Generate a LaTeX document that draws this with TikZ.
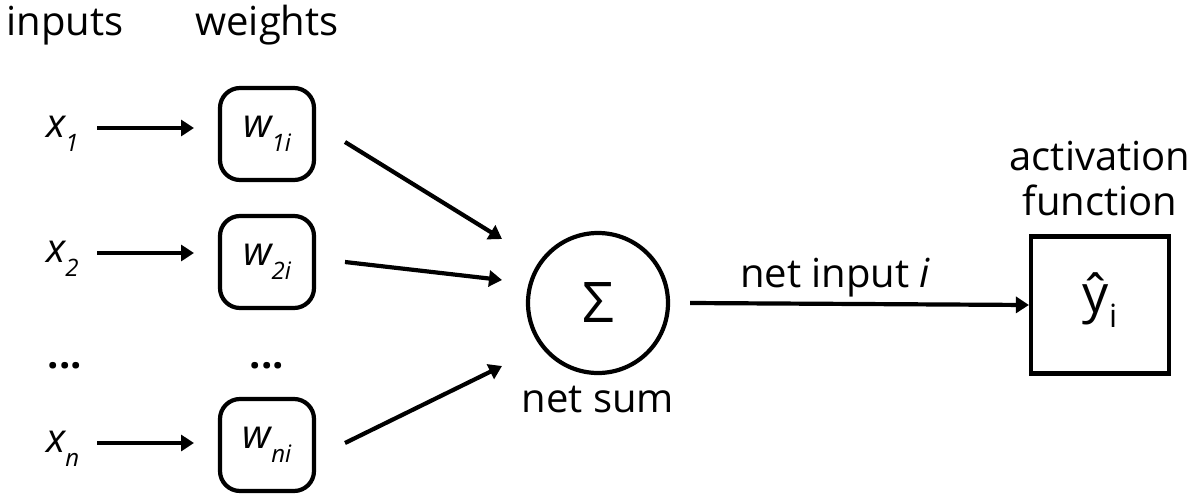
\documentclass[tikz,border=0pt]{standalone}
\usepackage{fontspec}
\setmainfont{Open Sans}
\usetikzlibrary{arrows.meta}
\begin{document}
\begin{tikzpicture}[x=1pt,y=-1pt,
  every node/.style={font=\fontsize{40}{44}\selectfont, inner sep=0pt},
  wbox/.style={draw, line width=4.2pt, rounded corners=20pt, minimum width=94pt, minimum height=92pt},
  arr/.style={line width=4.2pt, -{Triangle[length=13pt,width=16pt]}},
  lbl/.style={anchor=base}
]
\useasboundingbox (0,0) rectangle (1199,501);
% headings
\node[lbl] (hin) at (65,35) {inputs};
\node[lbl] (hw) at (267,35) {weights};
% inputs
\node[anchor=base west] (x1) at (46,137) {\itshape x\raisebox{-0.35em}{\fontsize{24}{26}\selectfont 1}};
\node[anchor=base west] (x2) at (46,262) {\itshape x\raisebox{-0.35em}{\fontsize{24}{26}\selectfont 2}};
\node[anchor=base west] (xn) at (46,452) {\itshape x\raisebox{-0.35em}{\fontsize{24}{26}\selectfont n}};
\node[lbl] (d1) at (65,368) {\textbf{...}};
\node[lbl] (d2) at (267,368) {\textbf{...}};
% weight boxes
\node[wbox] (w1) at (267,134) {\itshape w\raisebox{-0.35em}{\fontsize{24}{26}\selectfont 1i}};
\node[wbox] (w2) at (267,262) {\itshape w\raisebox{-0.35em}{\fontsize{24}{26}\selectfont 2i}};
\node[wbox] (wn) at (267,445) {\itshape w\raisebox{-0.35em}{\fontsize{24}{26}\selectfont ni}};
% arrow start/end coordinates
\coordinate (a1s) at (97,128); \coordinate (a1e) at (194,128);
\coordinate (a2s) at (97,253); \coordinate (a2e) at (194,253);
\coordinate (ans) at (97,443); \coordinate (ane) at (194,443);
\draw[arr] (a1s) -- (a1e);
\draw[arr] (a2s) -- (a2e);
\draw[arr] (ans) -- (ane);
% sum
\node[draw, circle, line width=4.2pt, minimum size=140pt] (sum) at (598,303) {\fontsize{56}{60}\selectfont Σ};
\node[lbl] (ns) at (598,412) {net sum};
\coordinate (b1s) at (345,142); \coordinate (b1e) at (502,239);
\coordinate (b2s) at (345,262); \coordinate (b2e) at (502,280);
\coordinate (bns) at (345,443); \coordinate (bne) at (502,366);
\draw[arr] (b1s) -- (b1e);
\draw[arr] (b2s) -- (b2e);
\draw[arr] (bns) -- (bne);
% output
\node[draw, line width=4.2pt, minimum width=138pt, minimum height=137pt] (act) at (1100,305) {};
\node (yh) at (1100,300) {\fontsize{52}{56}\selectfont ŷ\raisebox{-0.3em}{\fontsize{32}{34}\selectfont i}};
\node[lbl] (al1) at (1100,170) {activation};
\node[lbl] (al2) at (1100,215) {function};
\node[lbl] (ni) at (835,287) {net input \itshape i};
\draw[arr] (sum.east) ++(20pt,0) coordinate (cs) -- (act.west);
\end{tikzpicture}
\end{document}
